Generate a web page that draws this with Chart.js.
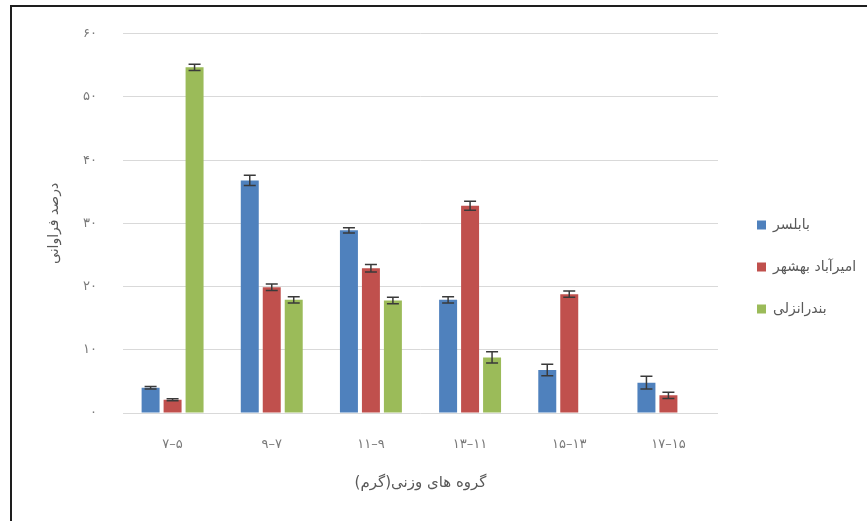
<!DOCTYPE html>
<html>
<head>
<meta charset="utf-8">
<script src="https://cdn.jsdelivr.net/npm/chart.js@4.4.1/dist/chart.umd.min.js"></script>
<style>
  html, body { margin: 0; padding: 0; background: #ffffff; }
  #wrap { position: relative; width: 867px; height: 521px; }
  canvas { direction: rtl; }
</style>
</head>
<body>
<div id="wrap"><canvas id="chart" width="867" height="521" dir="rtl"></canvas></div>
<script>
// Weight groups (grams) and frequency percentages per sampling site
const weightGroups = ['۵–۷', '۷–۹', '۹–۱۱', '۱۱–۱۳', '۱۳–۱۵', '۱۵–۱۷'];
const seriesNames = ['بابلسر', 'امیرآباد بهشهر', 'بندرانزلی'];

const babolsar    = [4.0, 36.8, 28.9, 17.9, 6.8, 4.8];
const babolsarErr = [0.2, 0.8, 0.4, 0.5, 0.9, 1.0];

const amirabad    = [2.1, 19.9, 22.9, 32.8, 18.8, 2.8];
const amirabadErr = [0.15, 0.5, 0.6, 0.7, 0.5, 0.5];

const anzali      = [54.7, 17.9, 17.8, 8.8, null, null];
const anzaliErr   = [0.5, 0.5, 0.5, 0.9, null, null];

const yTickLabels = ['۰', '۱۰', '۲۰', '۳۰', '۴۰', '۵۰', '۶۰'];
const yTitle = 'درصد فراوانی';
const xTitle = 'گروه های وزنی(گرم)';

const FONT = "'DejaVu Sans', 'Noto Sans', sans-serif";
const LEGEND_SIZE = 14;
const LEGEND_BOX = 9;
const LEGEND_PAD = 28;
const LEGEND_EXTRA = 10;   // Chart.js adds this to a vertical legend's width
const LEGEND_GAP = 11;     // space between plot area and the legend column
const PLOT_RIGHT = 718;    // right edge of the plot area

// Reserve exactly the room the legend needs so the plot keeps its width
const measureCtx = document.createElement('canvas').getContext('2d');
measureCtx.font = LEGEND_SIZE + 'px ' + FONT;
const legendTextW = Math.max(...seriesNames.map(t => measureCtx.measureText(t).width));
const legendW = LEGEND_PAD + LEGEND_BOX + LEGEND_SIZE / 2 + legendTextW + LEGEND_EXTRA;
const padRight = Math.max(0, 867 - PLOT_RIGHT - LEGEND_GAP - legendW);

// Symmetric error bars drawn on top of each bar
const errorBars = {
  id: 'errorBars',
  afterDatasetsDraw(chart) {
    const ctx = chart.ctx;
    const y = chart.scales.y;
    chart.data.datasets.forEach((ds, di) => {
      const meta = chart.getDatasetMeta(di);
      meta.data.forEach((bar, i) => {
        const v = ds.data[i];
        const e = ds.errors[i];
        if (v == null || e == null) return;
        const top = y.getPixelForValue(v + e);
        const bot = y.getPixelForValue(v - e);
        const half = 6;
        ctx.save();
        ctx.strokeStyle = '#3a3a3a';
        ctx.lineWidth = 1.5;
        ctx.beginPath();
        ctx.moveTo(bar.x, top); ctx.lineTo(bar.x, bot);
        ctx.moveTo(bar.x - half, top); ctx.lineTo(bar.x + half, top);
        ctx.moveTo(bar.x - half, bot); ctx.lineTo(bar.x + half, bot);
        ctx.stroke();
        ctx.restore();
      });
    });
  }
};

// White background and the dark frame along the top and left edges
const frame = {
  id: 'frame',
  beforeDraw(chart) {
    const ctx = chart.ctx;
    ctx.save();
    ctx.fillStyle = '#ffffff';
    ctx.fillRect(0, 0, chart.width, chart.height);
    ctx.restore();
  },
  afterDraw(chart) {
    const ctx = chart.ctx;
    ctx.save();
    ctx.fillStyle = '#1e1e1e';
    ctx.fillRect(10, 5, chart.width - 10, 2);
    ctx.fillRect(10, 5, 2, chart.height - 5);
    ctx.restore();
  }
};

new Chart(document.getElementById('chart'), {
  type: 'bar',
  data: {
    labels: weightGroups,
    datasets: [
      { label: seriesNames[0], data: babolsar, errors: babolsarErr, backgroundColor: '#4F81BD', borderWidth: 0 },
      { label: seriesNames[1], data: amirabad, errors: amirabadErr, backgroundColor: '#C0504D', borderWidth: 0 },
      { label: seriesNames[2], data: anzali,   errors: anzaliErr,   backgroundColor: '#9BBB59', borderWidth: 0 }
    ]
  },
  options: {
    responsive: false,
    animation: false,
    devicePixelRatio: 1,
    events: [],
    categoryPercentage: 0.665,
    barPercentage: 0.818,
    layout: { padding: { top: 29, left: 0, right: padRight, bottom: 16 } },
    plugins: {
      tooltip: { enabled: false },
      legend: {
        position: 'right',
        align: 'center',
        labels: {
          boxWidth: LEGEND_BOX,
          boxHeight: LEGEND_BOX,
          padding: LEGEND_PAD,
          color: '#595959',
          font: { family: FONT, size: LEGEND_SIZE }
        }
      }
    },
    scales: {
      x: {
        grid: { display: false },
        border: { display: false },
        ticks: {
          padding: 16,
          color: '#7a7a7a',
          font: { family: FONT, size: 13 }
        },
        title: {
          display: true,
          text: xTitle,
          color: '#595959',
          font: { family: FONT, size: 15 },
          padding: { top: 0, bottom: 13 }
        },
        afterFit(scale) { scale.height = 92; }
      },
      y: {
        min: 0,
        max: 60,
        border: { display: false },
        grid: { color: '#d9d9d9', lineWidth: 1, drawTicks: false },
        ticks: {
          stepSize: 10,
          padding: 26,
          color: '#7a7a7a',
          font: { family: FONT, size: 13 },
          callback: (value, index) => yTickLabels[index]
        },
        title: {
          display: true,
          text: yTitle,
          color: '#595959',
          font: { family: FONT, size: 14 },
          padding: { top: 46, bottom: 0 }
        },
        afterFit(scale) { scale.width = 123; }
      },
      gap: {
        type: 'linear',
        position: 'right',
        display: true,
        grid: { display: false },
        border: { display: false },
        ticks: { display: false },
        afterFit(scale) { scale.width = LEGEND_GAP; }
      }
    }
  },
  plugins: [errorBars, frame]
});
</script>
</body>
</html>
